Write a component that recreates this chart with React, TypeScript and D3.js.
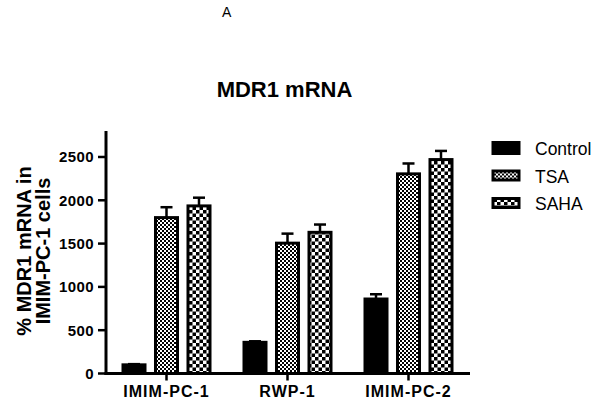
import React from 'react'
import * as d3 from 'd3'

const categories = ['IMIM-PC-1', 'RWP-1', 'IMIM-PC-2']
const seriesNames = ['Control', 'TSA', 'SAHA']
const controlValues = [100, 360, 860]
const controlErr = [8, 12, 55]
const tsaValues = [1800, 1505, 2305]
const tsaErr = [120, 110, 120]
const sahaValues = [1935, 1630, 2470]
const sahaErr = [95, 90, 100]
const yTicks = [0, 500, 1000, 1500, 2000, 2500]

const fills = ['#000', 'url(#tsaPat)', 'url(#sahaPat)']

const App = () => {
  const width = 600
  const height = 407
  const font = 'Arial, "Liberation Sans", Helvetica, sans-serif'

  const x0 = d3.scaleBand().domain(categories).range([106, 469])
  const x1 = d3.scaleBand().domain(seriesNames).range([-43.5, 43.5]).paddingInner(0.323)
  const y = d3.scaleLinear().domain([0, 2800]).range([373.5, 131])

  const values = [controlValues, tsaValues, sahaValues]
  const errs = [controlErr, tsaErr, sahaErr]

  const bars = []
  seriesNames.forEach((s, si) => {
    categories.forEach((c, ci) => {
      const cx = x0(c) + x0.bandwidth() / 2
      const bx = cx + x1(s)
      const v = values[si][ci]
      const e = errs[si][ci]
      const mid = bx + x1.bandwidth() / 2
      bars.push(
        <g key={s + c}>
          <line x1={mid} x2={mid} y1={y(v)} y2={y(v + e)} stroke='#000' strokeWidth={2.5} />
          <line x1={mid - 6} x2={mid + 6} y1={y(v + e)} y2={y(v + e)} stroke='#000' strokeWidth={2.5} />
          <rect x={bx} y={y(v)} width={x1.bandwidth()} height={y(0) - y(v)}
            fill={fills[si]} stroke='#000' strokeWidth={3} />
        </g>
      )
    })
  })

  return (
    <div style={{ position: 'absolute', left: 0, top: 0 }}>
      <svg width={width} height={height} style={{ display: 'block', background: '#fff' }} fontFamily={font}>
        <defs>
          <pattern id='tsaPat' patternUnits='userSpaceOnUse' width={4} height={4}>
            <rect width={4} height={4} fill='#fff' />
            <rect width={2} height={2} fill='#000' />
            <rect x={2} y={2} width={2} height={2} fill='#000' />
          </pattern>
          <pattern id='sahaPat' patternUnits='userSpaceOnUse' width={7} height={7}>
            <rect width={7} height={7} fill='#fff' />
            <rect width={3.5} height={3.5} fill='#000' />
            <rect x={3.5} y={3.5} width={3.5} height={3.5} fill='#000' />
          </pattern>
        </defs>

        <text x={222} y={17} fontSize={14}>A</text>
        <text x={284.5} y={97} fontSize={22} fontWeight='bold' textAnchor='middle'>MDR1 mRNA</text>

        {/* y axis label */}
        <g transform='translate(31,251) rotate(-90)'>
          <text x={0} y={0} fontSize={20} fontWeight='bold' textAnchor='middle'>% MDR1 mRNA in</text>
          <text x={0} y={19} fontSize={20} fontWeight='bold' textAnchor='middle'>IMIM-PC-1 cells</text>
        </g>

        {bars}

        {/* y axis */}
        <line x1={106} x2={106} y1={131} y2={y(0) + 1.5} stroke='#000' strokeWidth={3} />
        {yTicks.map(t => (
          <g key={t}>
            <line x1={98} x2={106} y1={y(t)} y2={y(t)} stroke='#000' strokeWidth={2.5} />
            <text x={94} y={y(t)} dy='0.36em' fontSize={15} fontWeight='bold' textAnchor='end' letterSpacing={0.4}>{t}</text>
          </g>
        ))}

        {/* x axis */}
        <line x1={104.5} x2={470} y1={y(0)} y2={y(0)} stroke='#000' strokeWidth={3} />
        {categories.map(c => {
          const cx = x0(c) + x0.bandwidth() / 2
          return (
            <g key={c}>
              <line x1={cx} x2={cx} y1={y(0)} y2={y(0) + 7} stroke='#000' strokeWidth={2.5} />
              <text x={cx} y={396.5} fontSize={16} fontWeight='bold' textAnchor='middle' letterSpacing={1}>{c}</text>
            </g>
          )
        })}

        {/* legend */}
        {seriesNames.map((s, i) => (
          <g key={s} transform={`translate(0,${i * 27.5})`}>
            <rect x={493} y={i === 0 ? 142.5 : 143.5} width={26} height={i === 0 ? 11 : 9} fill={fills[i]} stroke='#000' strokeWidth={3} />
            <text x={535} y={155} fontSize={17.5}>{s}</text>
          </g>
        ))}
      </svg>
    </div>
  )
}

export default App
